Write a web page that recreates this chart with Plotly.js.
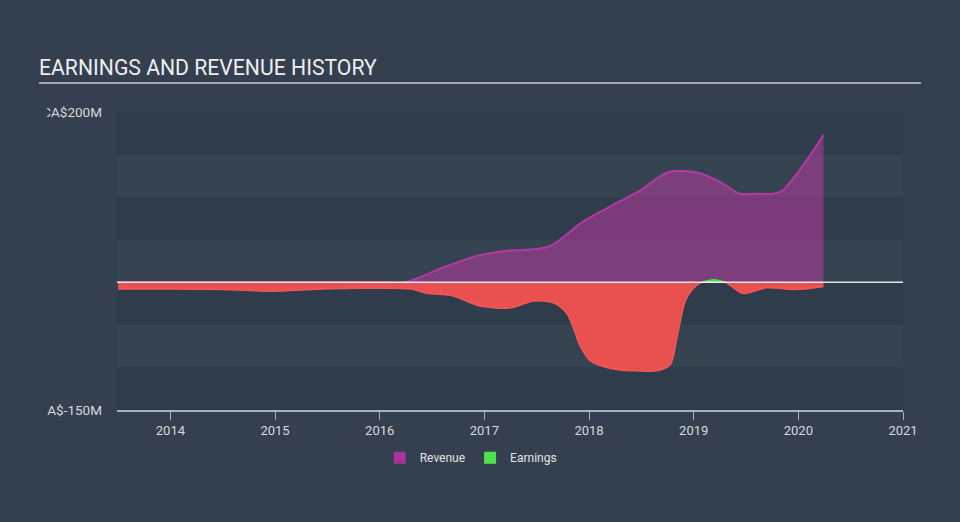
<!DOCTYPE html>
<html>
<head>
<meta charset="utf-8">
<script src="https://cdn.plot.ly/plotly-3.0.1.min.js"></script>
<style>
  html, body { margin: 0; padding: 0; background: #34404f; }
  #chart { width: 960px; height: 522px; }
</style>
</head>
<body>
<div id="chart"></div>
<script>
// values, in CA$ millions
const revYears = [2013.5, 2014.0, 2015.0, 2016.0, 2016.24, 2016.6, 2016.93, 2017.22, 2017.5, 2017.65,
                  2017.94, 2018.23, 2018.49, 2018.75, 2019.03, 2019.25, 2019.44, 2019.6, 2019.76, 2019.85,
                  2020.02, 2020.24];
const revenue  = [0, 0, 0, 0, 0, 17, 31, 37, 39, 44,
                  71, 91, 108, 129, 129, 118, 104, 104, 104, 108,
                  133, 173];

const earnYears = [2013.5, 2014.0, 2014.5, 2015.0, 2015.5, 2016.0, 2016.3, 2016.45, 2016.7, 2016.96,
                   2017.25, 2017.47, 2017.66, 2017.79, 2017.92, 2018.01, 2018.17, 2018.42, 2018.68, 2018.78,
                   2018.84, 2018.92, 2018.99, 2019.08, 2019.19, 2019.3, 2019.47, 2019.7, 2019.99, 2020.24];
const earnings  = [-8, -8, -8.5, -10.5, -7.5, -7, -8, -13, -16, -28,
                   -30, -22, -24, -37, -76, -92, -100, -104, -103, -96,
                   -65, -22, -8, 0, 3, 0, -13, -6.5, -8.5, -5];

const yearTicks = [2014, 2015, 2016, 2017, 2018, 2019, 2020, 2021];
const yTickVals = [-150, 200];
const yTickText = ['CA$-150M', 'CA$200M'];
const bandEdges = [-150, -100, -50, 0, 50, 100, 150, 200];

// split earnings into loss (red) and profit (green) parts
let lossVals = earnings.map(v => Math.min(v, 0));
let profitX = [], profitY = [];
earnings.forEach((v, i) => {
    if (v >= 0) { profitX.push(earnYears[i]); profitY.push(v); }
});

let revTrace = {
    x: revYears, y: revenue, showlegend: false,
    type: 'scatter', mode: 'lines', fill: 'tozeroy',
    line: { color: '#b23aa2', width: 2, shape: 'spline', smoothing: 0.8 },
    fillcolor: 'rgba(170,58,150,0.62)'
};

let lossTrace = {
    x: earnYears, y: lossVals, showlegend: false,
    type: 'scatter', mode: 'lines', fill: 'tozeroy',
    line: { color: '#f25757', width: 1.5, shape: 'spline', smoothing: 0.8 },
    fillcolor: '#e95151'
};

let profitTrace = {
    x: profitX, y: profitY, showlegend: false,
    type: 'scatter', mode: 'lines', fill: 'tozeroy',
    line: { color: '#4fe04f', width: 1.5, shape: 'spline', smoothing: 1 },
    fillcolor: '#4fe04f'
};

// legend-only entries, drawn as squares
let revKey = { type: 'bar', x: [null], y: [null], name: 'Revenue', marker: { color: '#a7349c' } };
let earnKey = { type: 'bar', x: [null], y: [null], name: 'Earnings', marker: { color: '#4fe04f' } };

// alternating background bands
let shapes = [];
for (let i = 0; i < bandEdges.length - 1; i++) {
    if (i % 2 === 0) {
        shapes.push({
            type: 'rect', xref: 'paper', yref: 'y', layer: 'below',
            x0: 0, x1: 1, y0: bandEdges[i], y1: bandEdges[i + 1],
            fillcolor: '#2f3c4b', line: { width: 0 }
        });
    }
}
// zero line
shapes.push({
    type: 'line', xref: 'paper', yref: 'y', layer: 'above',
    x0: 0, x1: 1, y0: 0, y1: 0,
    line: { color: 'rgba(255,255,255,0.85)', width: 1.5 }
});
// title underline
shapes.push({
    type: 'line', xref: 'paper', yref: 'paper',
    x0: -0.0992, x1: 1.0229, y0: 1.097, y1: 1.097,
    line: { color: '#c9ccd0', width: 1.5 }
});
// left edge cut over the y labels, as in the reference
shapes.push({
    type: 'rect', xref: 'paper', yref: 'paper', layer: 'above',
    x0: -0.1489, x1: -0.0891, y0: -0.2, y1: 1.05,
    fillcolor: '#34404f', line: { width: 0 }
});

let layout = {
    width: 960, height: 522,
    paper_bgcolor: '#34404f',
    plot_bgcolor: '#364452',
    margin: { l: 117, r: 57, t: 112, b: 112 },
    font: { family: 'Roboto, sans-serif', size: 12, color: '#d6d9dd' },
    title: {
        text: 'EARNINGS AND REVENUE HISTORY',
        xref: 'container', yref: 'container',
        x: 0.0406, xanchor: 'left', y: 0.87, yanchor: 'middle',
        font: { family: 'Roboto, sans-serif', size: 21.2, color: '#eceef0' }
    },
    xaxis: {
        range: [2013.49, 2021.0],
        tickvals: yearTicks,
        ticks: 'outside', ticklen: 8, tickcolor: '#aab3bd',
        showline: true, linecolor: '#aab3bd', linewidth: 1.5,
        showgrid: false, zeroline: false,
        tickfont: { size: 13, color: '#d6d9dd' }
    },
    yaxis: {
        range: [-150, 200],
        tickvals: yTickVals, ticktext: yTickText,
        showgrid: false, zeroline: false, showline: false,
        ticklabelstandoff: 14,
        tickfont: { size: 13.5, color: '#d6d9dd' }
    },
    showlegend: true,
    legend: {
        orientation: 'h', x: 0.45, xanchor: 'center', y: -0.16, yanchor: 'middle',
        font: { size: 12, color: '#e0e3e6' },
        bgcolor: 'rgba(0,0,0,0)'
    },
    shapes: shapes
};

Plotly.newPlot('chart', [revTrace, lossTrace, profitTrace, revKey, earnKey], layout, { staticPlot: true });
</script>
</body>
</html>
